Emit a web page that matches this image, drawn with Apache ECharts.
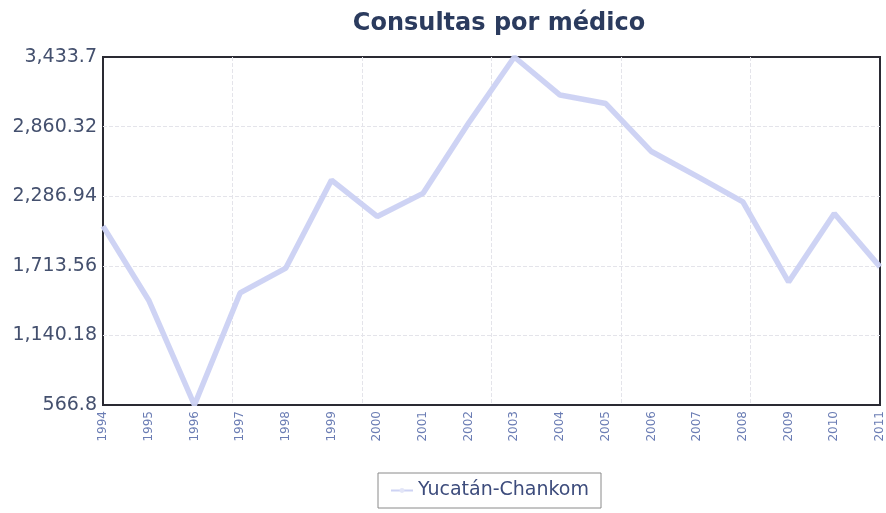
<!DOCTYPE html>
<html>
<head>
<meta charset="utf-8">
<script src="https://cdn.jsdelivr.net/npm/echarts@6/dist/echarts.min.js"></script>
<style>
  html, body { margin: 0; padding: 0; background: #fff; }
  #chart { width: 886px; height: 513px; }
</style>
</head>
<body>
<div id="chart"></div>
<script>
    // datos
    var years = ['1994', '1995', '1996', '1997', '1998', '1999', '2000', '2001', '2002',
                 '2003', '2004', '2005', '2006', '2007', '2008', '2009', '2010', '2011'];
    var consultas = [2040, 1430, 566.8, 1490, 1695, 2420, 2120, 2310, 2890,
                     3433.7, 3120, 3050, 2655, 2450, 2240, 1580, 2145, 1705];
    var yTicks = [566.8, 1140.18, 1713.56, 2286.94, 2860.32, 3433.7];

    var chart = echarts.init(document.getElementById('chart'));

    function fmt(v) {
        // buscar el tick mas cercano para evitar errores de redondeo
        var best = v;
        for (var i = 0; i < yTicks.length; i++) {
            if (Math.abs(yTicks[i] - v) < 1) best = yTicks[i];
        }
        return best.toLocaleString('en-US', {maximumFractionDigits: 2});
    }

    var dashed = { color: '#e4e4ea', type: 'dashed', width: 1 };

    var option = {
        backgroundColor: '#fff',
        title: {
            text: 'Consultas por médico',
            left: 494,
            textAlign: 'center',
            top: 7,
            textStyle: {
                fontFamily: 'DejaVu Sans',
                fontWeight: 'bold',
                fontSize: 24,
                color: '#2b3b5e'
            }
        },
        legend: {
            data: ['Yucatán-Chankom'],
            left: 378,
            top: 473,
            padding: [8, 12, 8, 12],
            borderColor: '#8a8a8a',
            borderWidth: 1,
            itemWidth: 22,
            itemHeight: 6,
            itemGap: 10,
            textStyle: {
                fontFamily: 'DejaVu Sans',
                fontSize: 19,
                color: '#3d4c7c'
            }
        },
        grid: {
            left: 103,
            right: 3,
            top: 57,
            bottom: 108,
            show: true,
            borderColor: '#2a2a33',
            borderWidth: 2,
            containLabel: false
        },
        xAxis: [
            {
                type: 'category',
                boundaryGap: false,
                data: years,
                axisLine: { show: false },
                axisTick: { show: false },
                splitLine: { show: false },
                axisLabel: {
                    rotate: 90,
                    margin: 6,
                    interval: 0,
                    fontFamily: 'DejaVu Sans',
                    fontSize: 12,
                    color: '#6b7db4'
                }
            },
            {
                // solo para las lineas verticales de la rejilla
                type: 'value',
                position: 'top',
                min: 0,
                max: 6,
                interval: 1,
                axisLine: { show: false },
                axisTick: { show: false },
                axisLabel: { show: false },
                splitLine: { show: true, showMinLine: false, showMaxLine: false, lineStyle: dashed }
            }
        ],
        yAxis: {
            type: 'value',
            min: yTicks[0],
            max: yTicks[yTicks.length - 1],
            interval: 573.38,
            axisLine: { show: false },
            axisTick: { show: false },
            axisLabel: {
                margin: 6,
                fontFamily: 'DejaVu Sans',
                fontSize: 19,
                color: '#44506e',
                formatter: fmt
            },
            splitLine: { show: true, showMinLine: false, showMaxLine: false, lineStyle: dashed }
        },
        series: [
            {
                name: 'Yucatán-Chankom',
                type: 'line',
                xAxisIndex: 0,
                data: consultas,
                symbol: 'none',
                lineStyle: { color: '#cbd1f3', width: 5.5, opacity: 0.95 },
                itemStyle: { color: '#e2e5f7' }
            }
        ]
    };

    chart.setOption(option);
</script>
</body>
</html>
